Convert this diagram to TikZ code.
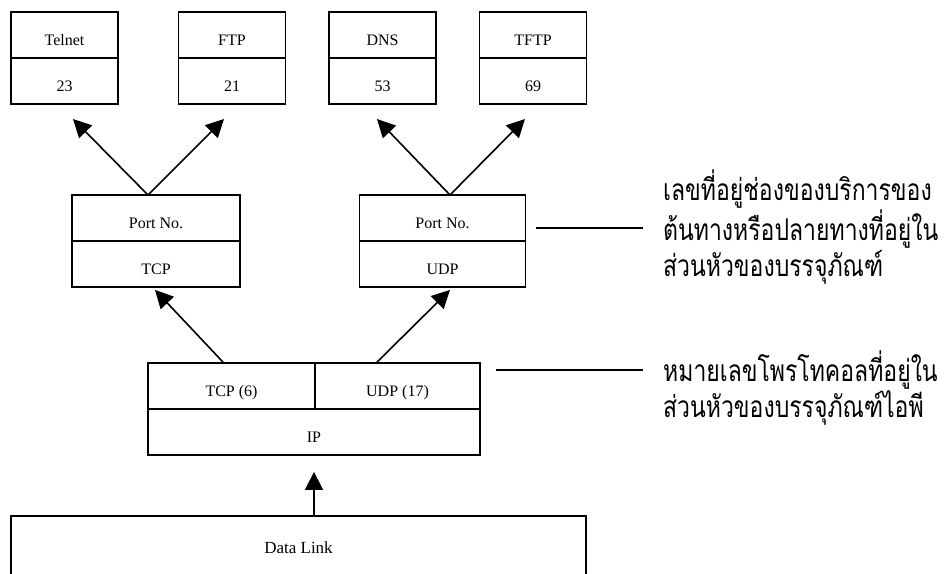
\documentclass[tikz,border=0pt]{standalone}
\usepackage{fontspec}
\setmainfont{Liberation Serif}
\newfontfamily\thaifont[Script=Thai]{Loma}
\usetikzlibrary{arrows.meta,calc}

\begin{document}
\begin{tikzpicture}[x=1pt,y=-1pt,
        cell/.style={draw,line width=1.8pt,minimum width=107pt,minimum height=46pt,
            inner sep=0pt,text height=21pt,text depth=0pt,font=\fontsize{16}{18}\selectfont},
        flow/.style={line width=1.6pt,-{Triangle[length=18pt,width=18pt]}},
        lead/.style={line width=1.7pt},
        note/.style={anchor=west,align=left,inner sep=0pt,yscale=1.3,transform shape,
            font=\thaifont\fontsize{23}{27.7}\selectfont}]
        \useasboundingbox (0,0) rectangle (950,573);

        % Service boxes with port numbers
        \foreach \nm/\x/\svc/\num in {telnet/64.5/Telnet/23, ftp/232/FTP/21, dns/382.5/DNS/53, tftp/533/TFTP/69}{
            \node[cell] (\nm) at (\x,35) {\svc};
            \node[cell] (\nm no) at (\x,81) {\num};
        }

        % Transport boxes
        \node[cell,minimum width=168pt] (tcpport) at (156,218) {Port No.};
        \node[cell,minimum width=168pt] (tcp) at (156,264) {TCP};
        \node[cell,minimum width=166pt] (udpport) at (442.5,218) {Port No.};
        \node[cell,minimum width=166pt] (udp) at (442.5,264) {UDP};

        % IP box
        \node[cell,minimum width=167pt] (iptcp) at (231.5,386) {TCP (6)};
        \node[cell,minimum width=165pt] (ipudp) at (397.5,386) {UDP (17)};
        \node[cell,minimum width=332pt] (ip) at (314,432) {IP};

        % Data link box, runs off the bottom
        \node[cell,minimum width=575pt,minimum height=64pt,text height=11pt,
            font=\fontsize{17}{19}\selectfont] (link) at (298.5,548) {Data Link};

        % Arrow ends
        \coordinate (tcpfork) at (148,195);
        \coordinate (udpfork) at (450,195);
        \coordinate (telnettip) at (73,119);
        \coordinate (ftptip) at (224,119);
        \coordinate (dnstip) at (377,119);
        \coordinate (tftptip) at (525,119);

        \draw[flow] (tcpfork) -- (telnettip);
        \draw[flow] (tcpfork) -- (ftptip);
        \draw[flow] (udpfork) -- (dnstip);
        \draw[flow] (udpfork) -- (tftptip);

        \draw[flow] ($(iptcp.north)+(-8.5,0)$) -- ($(tcp.south)+(-1,2)$);
        \draw[flow] ($(ipudp.north)+(-20.5,0)$) -- ($(udp.south)+(7.5,2)$);
        \draw[flow] (ip.south |- link.north) -- ($(ip.south)+(0,16)$);

        % Notes
        \node[note] (portnote) at (663,227) {เลขที่อยู่ช่องของบริการของ\\ต้นทางหรือปลายทางที่อยู่ใน\\ส่วนหัวของบรรจุภัณฑ์};
        \node[note] (protonote) at (663,388) {หมายเลขโพรโทคอลที่อยู่ใน\\ส่วนหัวของบรรจุภัณฑ์ไอพี};

        \draw[lead] ($(udpport.east)+(10,10)$) -- (643,228);
        \draw[lead] ($(ipudp.east)+(15,-16)$) -- (643,370);

    \end{tikzpicture}
\end{document}
